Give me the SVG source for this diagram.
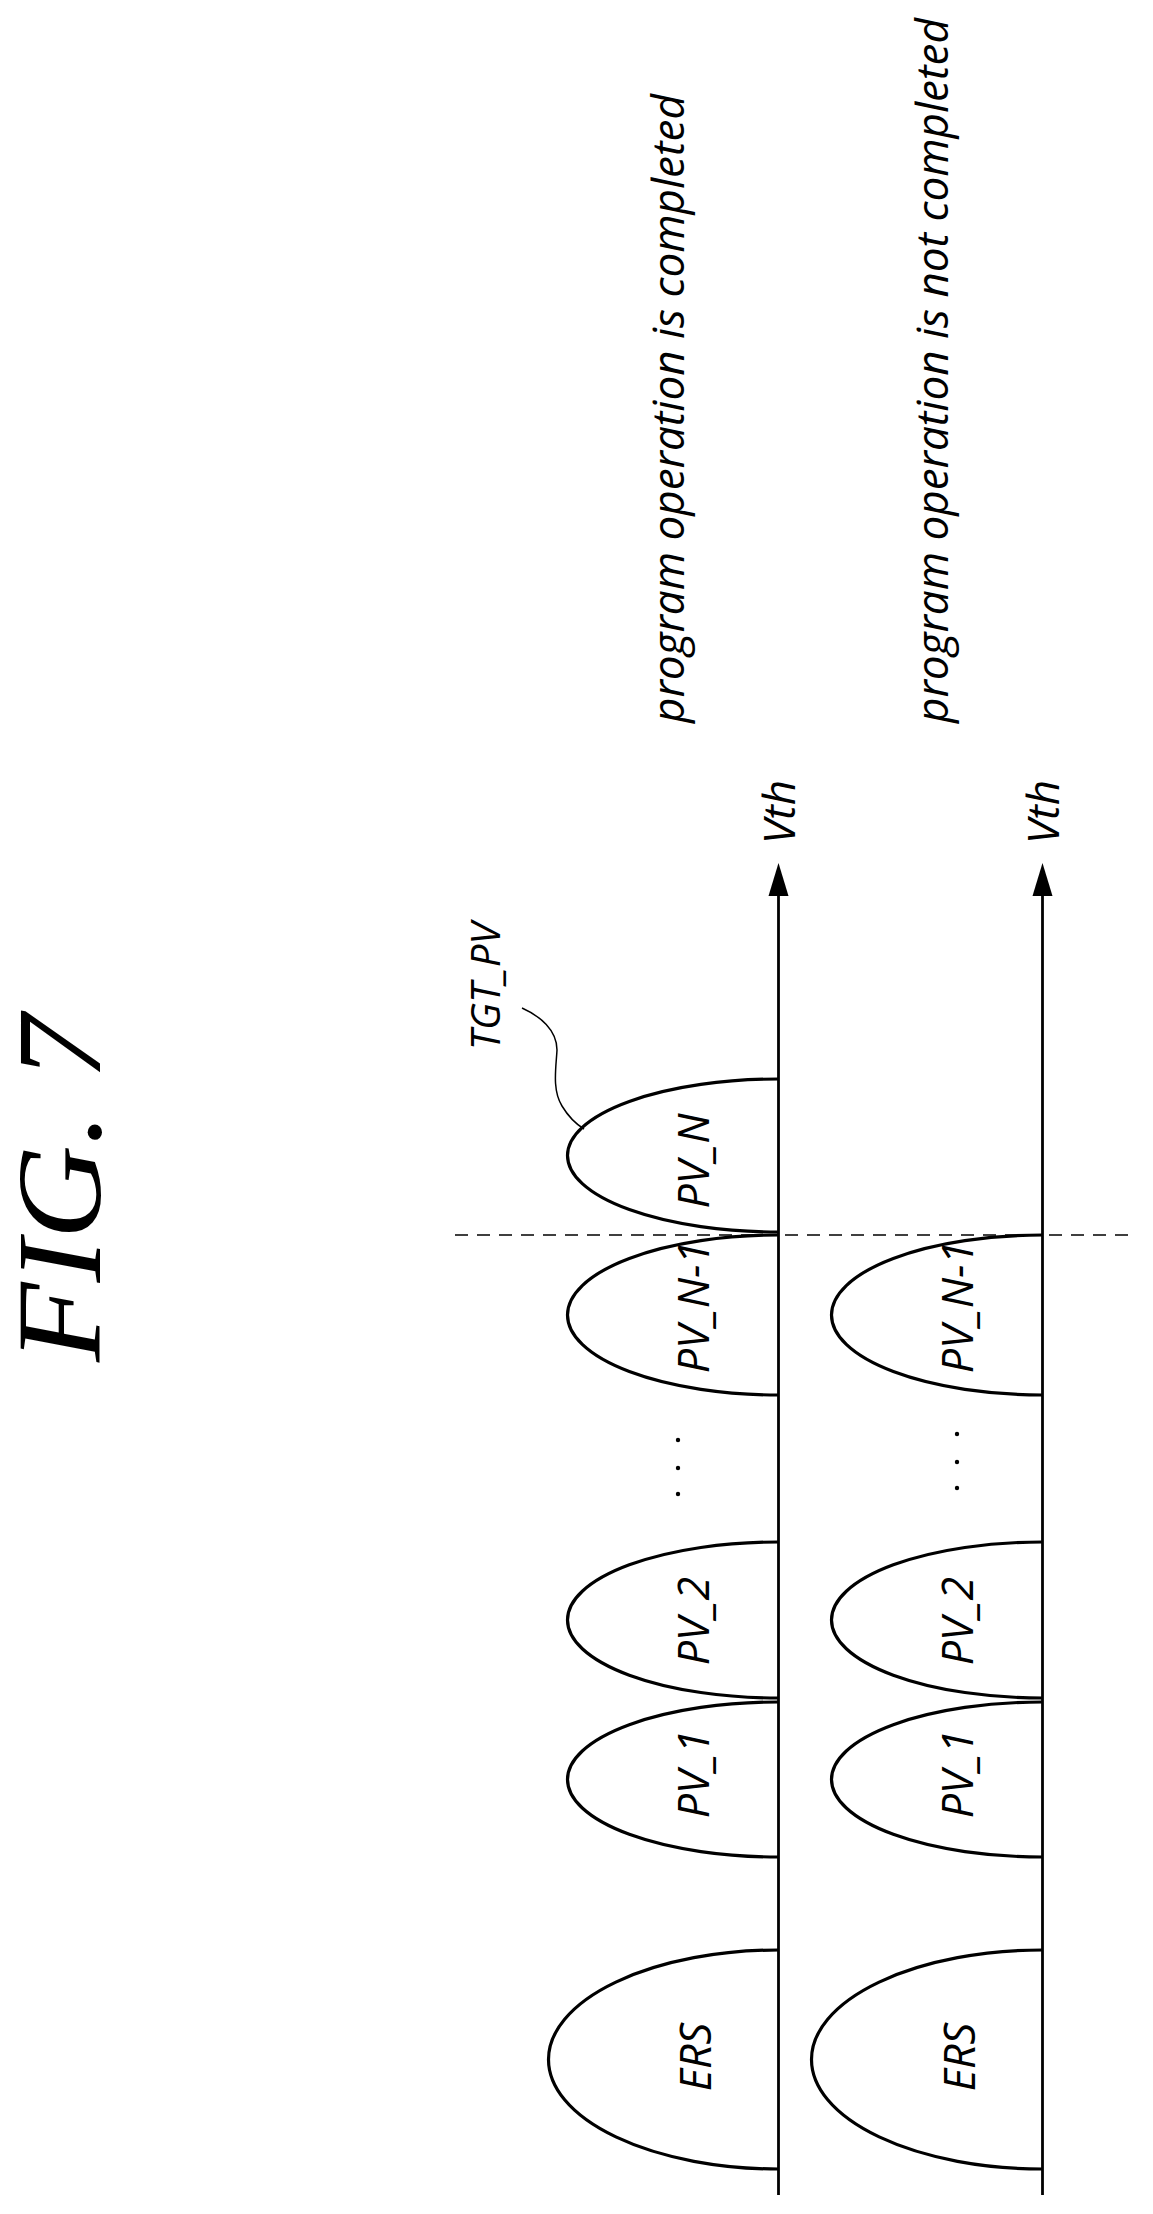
<svg xmlns="http://www.w3.org/2000/svg" width="1153" height="2214" viewBox="0 0 1153 2214">
<style>
.c{fill:none;stroke:#000;stroke-width:3.2}
.ax{stroke:#000;stroke-width:2.8}
.t{font-family:"Open Sans","DejaVu Sans",sans-serif;font-style:italic;font-size:40px;fill:#000}
.m{text-anchor:middle;font-size:43px}
.big{font-size:44px}
</style>
<rect width="1153" height="2214" fill="#fff"/>
<text transform="translate(100,1362) rotate(-90)" font-family="Liberation Serif,serif" font-style="italic" font-size="120" textLength="347" lengthAdjust="spacingAndGlyphs">FIG. 7</text>
<g id="connectors">
<line class="ax" x1="778.5" y1="2195" x2="778.5" y2="890"/>
<polygon points="778.5,863 768.5,896 788.5,896"/>
<line class="ax" x1="1042.5" y1="2195" x2="1042.5" y2="890"/>
<polygon points="1042.5,863 1032.5,896 1052.5,896"/>
<line x1="455" y1="1235" x2="1136" y2="1235" stroke="#000" stroke-width="1.5" stroke-dasharray="13 9"/>
<path d="M522,1008 C540,1016 557,1030 557,1050 C556,1068 552,1090 562,1106 C568,1116 576,1124 584,1129" fill="none" stroke="#000" stroke-width="1.5"/>
</g>
<g id="top-row">
<path class="c" d="M778.5,1079 A211 76.5 0 0 0 778.5,1232"/>
<path class="c" d="M778.5,1235 A211 80 0 0 0 778.5,1395"/>
<path class="c" d="M778.5,1542 A211 78 0 0 0 778.5,1698"/>
<path class="c" d="M778.5,1702 A211 77.5 0 0 0 778.5,1857"/>
<path class="c" d="M778.5,1950 A230 109.5 0 0 0 778.5,2169"/>
<text class="t m" transform="translate(709,1161) rotate(-90)">PV_N</text>
<text class="t m" transform="translate(709,1307) rotate(-90)">PV_N-1</text>
<text class="t m" transform="translate(709,1621) rotate(-90)">PV_2</text>
<text class="t m" transform="translate(709,1774) rotate(-90)">PV_1</text>
<text class="t m" transform="translate(711,2057) rotate(-90)">ERS</text>
<circle cx="678" cy="1440" r="2.2"/><circle cx="678" cy="1468" r="2.2"/><circle cx="678" cy="1494" r="2.2"/>
<text class="t" transform="translate(500,1050) rotate(-90)">TGT_PV</text>
<text class="t big" transform="translate(795,844) rotate(-90)">Vth</text>
<text class="t big" transform="translate(684,723) rotate(-90)">program operation is completed</text>
</g>
<g id="bottom-row">
<path class="c" d="M1042.5,1235 A211 80 0 0 0 1042.5,1395"/>
<path class="c" d="M1042.5,1542 A211 78 0 0 0 1042.5,1698"/>
<path class="c" d="M1042.5,1702 A211 77.5 0 0 0 1042.5,1857"/>
<path class="c" d="M1042.5,1950 A231 109.5 0 0 0 1042.5,2169"/>
<text class="t m" transform="translate(973,1307) rotate(-90)">PV_N-1</text>
<text class="t m" transform="translate(973,1621) rotate(-90)">PV_2</text>
<text class="t m" transform="translate(973,1774) rotate(-90)">PV_1</text>
<text class="t m" transform="translate(975,2057) rotate(-90)">ERS</text>
<circle cx="957" cy="1434" r="2.2"/><circle cx="957" cy="1462" r="2.2"/><circle cx="957" cy="1488" r="2.2"/>
<text class="t big" transform="translate(1059,844) rotate(-90)">Vth</text>
<text class="t big" transform="translate(948,723) rotate(-90)">program operation is not completed</text>
</g>
</svg>
